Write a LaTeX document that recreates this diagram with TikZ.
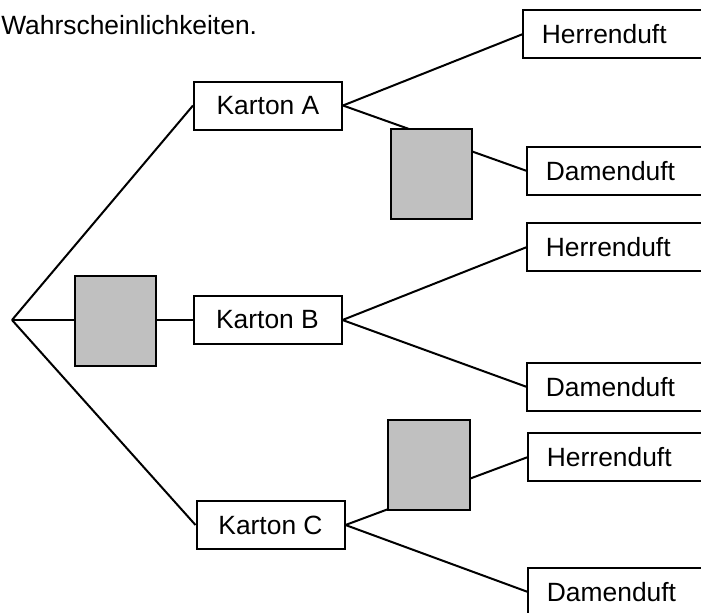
\documentclass[tikz,border=0pt]{standalone}
\usepackage{fontspec}
\setmainfont{Liberation Sans}
\usepackage{xcolor}
\usetikzlibrary{backgrounds}
\definecolor{grau}{RGB}{192, 192, 192}
\tikzset{
  karton/.style={draw, line width=1.5pt, minimum width=111pt, minimum height=36pt, inner sep=0pt},
  duft/.style={anchor=west, minimum height=36pt, text width=130pt, align=left, inner xsep=14pt, inner ysep=0pt},
  feld/.style={draw, fill=grau, line width=1.5pt, minimum width=61pt, minimum height=67.5pt, inner sep=0pt},
  ast/.style={line width=1.5pt}
}

\begin{document}
\begin{tikzpicture}[x=0.75pt, y=-0.75pt, font=\fontsize{19.8pt}{23pt}\selectfont]
      \useasboundingbox (0, 0) rectangle (701, 612);
      \node[anchor=base west, inner sep=0pt](titel) at (1, 34) {Wahrscheinlichkeiten.};
      \coordinate(wurzel) at (12, 320);
      \node[karton](ka) at (268, 105.5) {Karton A};
      \node[karton](kb) at (267.5, 320) {Karton B};
      \node[karton](kc) at (270.5, 525) {Karton C};
      \node[feld](fl) at (115.5, 321) {};
      \node[feld](fa) at (431.5, 174) {};
      \node[feld](fc) at (429, 464.5) {};
      \node[duft](ha) at (523, 34) {Herrenduft};
      \node[duft](da) at (527, 171) {Damenduft};
      \node[duft](hb) at (527, 247) {Herrenduft};
      \node[duft](db) at (527, 387) {Damenduft};
      \node[duft](hc) at (528, 457) {Herrenduft};
      \node[duft](dc) at (528, 592) {Damenduft};
      \foreach \d in {ha, da, hb, db, hc, dc}
        \draw[ast] (\d.north east)--(\d.north west)--(\d.south west)--(\d.south east);
      \begin{scope}[on background layer]
        \draw[ast] (wurzel)--(ka.west);
        \draw[ast] (wurzel)--(kb.west);
        \draw[ast] (wurzel)--(kc.west);
        \draw[ast] (ka.east)--(ha.west);
        \draw[ast] (ka.east)--(da.west);
        \draw[ast] (kb.east)--(hb.west);
        \draw[ast] (kb.east)--(db.west);
        \draw[ast] (kc.east)--(hc.west);
        \draw[ast] (kc.east)--(dc.west);
      \end{scope}
    \end{tikzpicture}
\end{document}
